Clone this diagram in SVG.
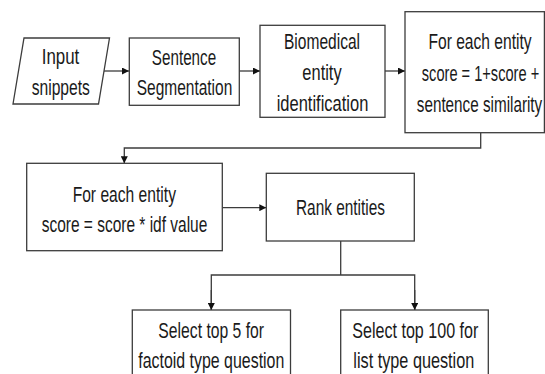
<svg xmlns="http://www.w3.org/2000/svg" width="545" height="374" viewBox="0 0 545 374">
<style>
.box{fill:#fff;stroke:#3c3c3c;stroke-width:1.3}
.t{font-family:"Liberation Sans",Arial,sans-serif;font-size:21.5px;fill:#1a1a1a;text-anchor:middle}
.c{fill:none;stroke:#3c3c3c;stroke-width:1.3}
</style>
<defs>
<marker id="ah" viewBox="0 0 10 10" refX="10" refY="5" markerWidth="7" markerHeight="7" markerUnits="userSpaceOnUse" orient="auto">
<path d="M0,0 L10,5 L0,10 Z" fill="#111"/>
</marker>
</defs>
<rect width="545" height="374" fill="#fff"/>
<g id="connectors">
<line class="c" x1="104" y1="71" x2="129" y2="71" marker-end="url(#ah)"/>
<line class="c" x1="239.3" y1="71" x2="260" y2="71" marker-end="url(#ah)"/>
<line class="c" x1="385" y1="71" x2="405" y2="71" marker-end="url(#ah)"/>
<polyline class="c" points="480.7,132.7 480.7,148 124.3,148 124.3,163.3" marker-end="url(#ah)"/>
<line class="c" x1="222.3" y1="207.7" x2="266.3" y2="207.7" marker-end="url(#ah)"/>
<polyline class="c" points="340.7,241 340.7,275"/>
<polyline class="c" points="211.3,310 211.3,275 414.7,275 414.7,310"/>
<line class="c" x1="211.3" y1="290" x2="211.3" y2="310" marker-end="url(#ah)"/>
<line class="c" x1="414.7" y1="290" x2="414.7" y2="310" marker-end="url(#ah)"/>
</g>
<g id="input">
<polygon class="box" points="24,38 109.5,38 98.5,104 13,104"/>
<text class="t" x="60.5" y="63.5" textLength="37.6" lengthAdjust="spacingAndGlyphs">Input</text>
<text class="t" x="60.8" y="95" textLength="58.3" lengthAdjust="spacingAndGlyphs">snippets</text>
</g>
<g id="segmentation">
<rect class="box" x="129.3" y="38" width="110" height="67.3"/>
<text class="t" x="184" y="64.5" textLength="64.3" lengthAdjust="spacingAndGlyphs">Sentence</text>
<text class="t" x="184.5" y="95" textLength="95.6" lengthAdjust="spacingAndGlyphs">Segmentation</text>
</g>
<g id="biomedical">
<rect class="box" x="260" y="25.3" width="125" height="92"/>
<text class="t" x="322" y="48.5" textLength="76" lengthAdjust="spacingAndGlyphs">Biomedical</text>
<text class="t" x="322" y="79.5" textLength="39.3" lengthAdjust="spacingAndGlyphs">entity</text>
<text class="t" x="322.5" y="111" textLength="91.7" lengthAdjust="spacingAndGlyphs">identification</text>
</g>
<g id="score1">
<rect class="box" x="405" y="11.7" width="139.4" height="121"/>
<text class="t" transform="translate(480 49) scale(0.726 1)">For each entity</text>
<text class="t" transform="translate(480.5 80.5) scale(0.68 1)">score = 1+score +</text>
<text class="t" transform="translate(479.5 111.5) scale(0.71 1)">sentence similarity</text>
</g>
<g id="score2">
<rect class="box" x="26.7" y="163.3" width="195.6" height="87.4"/>
<text class="t" x="124.3" y="201.7" textLength="103.3" lengthAdjust="spacingAndGlyphs">For each entity</text>
<text class="t" x="124.5" y="231.7" textLength="165.6" lengthAdjust="spacingAndGlyphs">score = score * idf value</text>
</g>
<g id="rank">
<rect class="box" x="266.3" y="173.3" width="148" height="67.7"/>
<text class="t" x="340.5" y="215" textLength="89" lengthAdjust="spacingAndGlyphs">Rank entities</text>
</g>
<g id="factoid">
<rect class="box" x="132.3" y="310" width="158.2" height="70"/>
<text class="t" x="211.2" y="338" textLength="105.7" lengthAdjust="spacingAndGlyphs">Select top 5 for</text>
<text class="t" x="211.3" y="368" textLength="146" lengthAdjust="spacingAndGlyphs">factoid type question</text>
</g>
<g id="list">
<rect class="box" x="340.7" y="310" width="147.6" height="70"/>
<text class="t" x="415.3" y="338.3" textLength="126" lengthAdjust="spacingAndGlyphs">Select top 100 for</text>
<text class="t" x="413.8" y="368.3" textLength="121" lengthAdjust="spacingAndGlyphs">list type question</text>
</g>
</svg>
